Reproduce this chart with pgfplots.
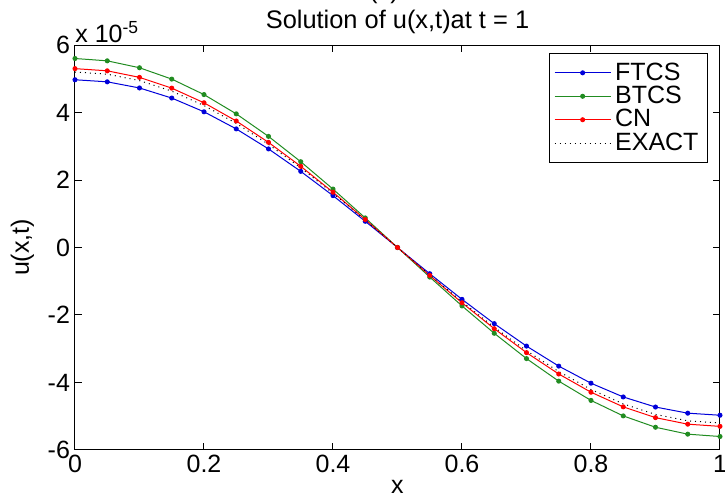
\documentclass[border=0pt]{standalone}
\usepackage{fontspec}
\setmainfont{Liberation Sans}
\usepackage{pgfplots}
\pgfplotsset{compat=1.18}
\definecolor{mgreen}{rgb}{0.13,0.55,0.13}
\definecolor{mblue}{rgb}{0,0,0.85}
\begin{document}
\begin{tikzpicture}
\begin{axis}[
  scale only axis,
  width=322.5pt, height=202.5pt,
  xmin=0, xmax=1, ymin=-6, ymax=6,
  xtick={0,0.2,0.4,0.6,0.8,1},
  ytick={-6,-4,-2,0,2,4,6},
  xticklabels={0,0.2,0.4,0.6,0.8,1},
  tick align=inside,
  major tick length=3.5pt,
  /pgf/number format/assume math mode=true,
  tick label style={font=\fontsize{12.5}{14}\selectfont},
  xticklabel style={yshift=1pt},
  yticklabel style={xshift=1pt},
  label style={font=\fontsize{12.5}{14}\selectfont},
  xlabel={x}, ylabel={u(x,t)},
  xlabel style={yshift=3pt},
  ylabel style={yshift=0pt},
  title={Solution of u(x,t)at t = 1},
  title style={font=\fontsize{12.7}{14}\selectfont, at={(0.5,1)}, anchor=base, yshift=2.5pt},
  legend style={at={(rel axis cs:0.9814,0.98)}, anchor=north east, font=\fontsize{12.5}{13.5}\selectfont, draw=black, line width=0.5pt, inner sep=2.5pt, row sep=-2.5pt},
  legend cell align=left,
  legend image code/.code={\draw[mark repeat=2,mark phase=2,#1] plot coordinates {(0pt,0pt) (14pt,0pt) (28pt,0pt)};},
  axis line style={line width=0.5pt},
  every tick/.style={black, line width=0.5pt},
  clip=false,
]
\addplot[mblue, line width=0.5pt, mark=*, mark size=1pt] coordinates {
(0,4.970)(0.05,4.909)(0.1,4.727)(0.15,4.428)(0.2,4.021)(0.25,3.514)(0.3,2.921)(0.35,2.256)(0.4,1.536)(0.45,0.777)(0.5,0)(0.55,-0.777)(0.6,-1.536)(0.65,-2.256)(0.7,-2.921)(0.75,-3.514)(0.8,-4.021)(0.85,-4.428)(0.9,-4.727)(0.95,-4.909)(1,-4.970)};
\addlegendentry{FTCS}
\addplot[mgreen, line width=0.5pt, mark=*, mark size=1pt] coordinates {
(0,5.600)(0.05,5.531)(0.1,5.326)(0.15,4.990)(0.2,4.531)(0.25,3.960)(0.3,3.292)(0.35,2.542)(0.4,1.731)(0.45,0.876)(0.5,0)(0.55,-0.876)(0.6,-1.731)(0.65,-2.542)(0.7,-3.292)(0.75,-3.960)(0.8,-4.531)(0.85,-4.990)(0.9,-5.326)(0.95,-5.531)(1,-5.600)};
\addlegendentry{BTCS}
\addplot[red, line width=0.5pt, mark=*, mark size=1pt] coordinates {
(0,5.300)(0.05,5.235)(0.1,5.041)(0.15,4.722)(0.2,4.288)(0.25,3.748)(0.3,3.115)(0.35,2.406)(0.4,1.638)(0.45,0.829)(0.5,0)(0.55,-0.829)(0.6,-1.638)(0.65,-2.406)(0.7,-3.115)(0.75,-3.748)(0.8,-4.288)(0.85,-4.722)(0.9,-5.041)(0.95,-5.235)(1,-5.300)};
\addlegendentry{CN}
\addplot[black, line width=0.5pt, dotted] coordinates {
(0,5.200)(0.05,5.136)(0.1,4.946)(0.15,4.633)(0.2,4.207)(0.25,3.677)(0.3,3.057)(0.35,2.361)(0.4,1.607)(0.45,0.813)(0.5,0)(0.55,-0.813)(0.6,-1.607)(0.65,-2.361)(0.7,-3.057)(0.75,-3.677)(0.8,-4.207)(0.85,-4.633)(0.9,-4.946)(0.95,-5.136)(1,-5.200)};
\addlegendentry{EXACT}
\node[anchor=base west, inner sep=0pt, font=\fontsize{12.5}{14}\selectfont] at (rel axis cs:0,1) [yshift=1.5pt] {x 10\textsuperscript{-5}};
\node[anchor=south, inner sep=0pt, font=\fontsize{12.7}{14}\selectfont] at (rel axis cs:0.479,1) [yshift=20.5pt] {(c)};
\end{axis}
\pgfresetboundingbox
\useasboundingbox (-37.5pt,-26.5pt) rectangle (325pt,225pt);
\end{tikzpicture}
\end{document}
